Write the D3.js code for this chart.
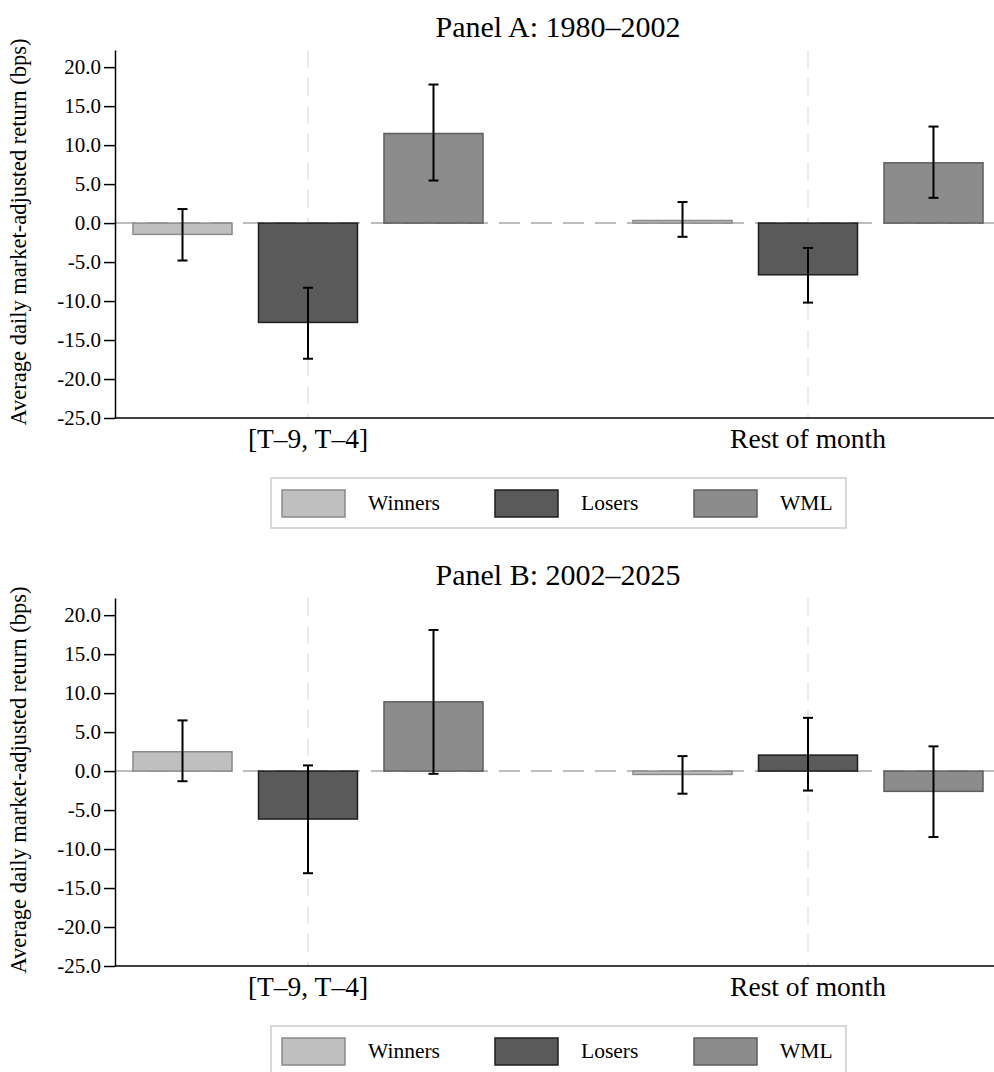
<!DOCTYPE html>
<html>
<head>
<meta charset="utf-8">
<script src="https://cdn.jsdelivr.net/npm/d3@7"></script>
<style>
  body { margin: 0; background: #fff; }
  text { font-family: "Liberation Serif", "Times New Roman", serif; }
</style>
</head>
<body>
<svg id="chart"></svg>
<script>
// Chart data
const categories = ["[T\u20139, T\u20134]", "Rest of month"];
const seriesNames = ["Winners", "Losers", "WML"];
const panelTitles = ["Panel A: 1980\u20132002", "Panel B: 2002\u20132025"];

// mean, lower CI, upper CI per panel, per category, per series
const panelAMeans = [[-1.45, -12.74, 11.49], [0.33, -6.63, 7.73]];
const panelALow   = [[-4.8, -17.4, 5.46], [-1.76, -10.2, 3.24]];
const panelAHigh  = [[1.8, -8.3, 17.77], [2.7, -3.2, 12.38]];

const panelBMeans = [[2.48, -6.15, 8.88], [-0.43, 2.05, -2.6]];
const panelBLow   = [[-1.3, -13.1, -0.35], [-2.9, -2.5, -8.46]];
const panelBHigh  = [[6.5, 0.73, 18.1], [1.92, 6.83, 3.17]];

const yTicks = [-25, -20, -15, -10, -5, 0, 5, 10, 15, 20];

const width = 994;
const height = 1072;

const fills = { Winners: "#bfbfbf", Losers: "#5a5a5a", WML: "#8c8c8c" };
const strokes = { Winners: "#8a8a8a", Losers: "#1e1e1e", WML: "#5e5e5e" };

const svg = d3.select("#chart")
    .attr("width", width)
    .attr("height", height);

const left = 115;
const rightEdge = 1001;

// Category position and series offset within a category
const x = d3.scalePoint()
    .domain(categories)
    .range([left, rightEdge])
    .padding(0.386);

const xInner = d3.scaleBand()
    .domain(seriesNames)
    .range([-175, 175])
    .paddingInner(0.211);

// tick labels use a plain hyphen for negatives
const fmt = d => d3.format(".1f")(d).replace("\u2212", "-");

function drawPanel(offsetY, title, means, lows, highs) {
    const g = svg.append("g").attr("transform", `translate(0,${offsetY})`);

    const y = d3.scaleLinear()
        .domain([-25, 22.2])
        .range([418, 50]);

    // Title
    g.append("text")
        .attr("x", (left + rightEdge) / 2)
        .attr("y", 37)
        .attr("text-anchor", "middle")
        .style("font-size", "30px")
        .text(title);

    // Vertical dashed guides at category centres
    g.selectAll(".vguide")
        .data(categories)
        .enter().append("line")
        .attr("x1", d => x(d))
        .attr("x2", d => x(d))
        .attr("y1", y(22.2))
        .attr("y2", y(-25))
        .attr("stroke", "#ebebeb")
        .attr("stroke-width", 2)
        .attr("stroke-dasharray", "18,10");

    // Zero line
    g.append("line")
        .attr("x1", left)
        .attr("x2", width)
        .attr("y1", y(0))
        .attr("y2", y(0))
        .attr("stroke", "#a8a8a8")
        .attr("stroke-width", 1.5)
        .attr("stroke-dasharray", "21,11");

    // Bars
    const rows = [];
    categories.forEach((c, i) => {
        seriesNames.forEach((s, j) => {
            rows.push({ cat: c, series: s, mean: means[i][j], lo: lows[i][j], hi: highs[i][j] });
        });
    });

    g.selectAll(".bar")
        .data(rows)
        .enter().append("rect")
        .attr("x", d => x(d.cat) + xInner(d.series))
        .attr("width", xInner.bandwidth())
        .attr("y", d => y(Math.max(0, d.mean)))
        .attr("height", d => Math.abs(y(d.mean) - y(0)))
        .attr("fill", d => fills[d.series])
        .attr("stroke", d => strokes[d.series])
        .attr("stroke-width", 1.5);

    // Error bars
    const eb = g.selectAll(".err")
        .data(rows)
        .enter().append("g")
        .attr("transform", d => `translate(${x(d.cat) + xInner(d.series) + xInner.bandwidth() / 2},0)`);
    eb.append("line")
        .attr("y1", d => y(d.lo))
        .attr("y2", d => y(d.hi))
        .attr("stroke", "#000")
        .attr("stroke-width", 2);
    eb.append("line")
        .attr("x1", -5).attr("x2", 5)
        .attr("y1", d => y(d.hi)).attr("y2", d => y(d.hi))
        .attr("stroke", "#000").attr("stroke-width", 2);
    eb.append("line")
        .attr("x1", -5).attr("x2", 5)
        .attr("y1", d => y(d.lo)).attr("y2", d => y(d.lo))
        .attr("stroke", "#000").attr("stroke-width", 2);

    // Y axis
    const yAxis = g.append("g")
        .attr("transform", `translate(${left},0)`)
        .call(d3.axisLeft(y).tickValues(yTicks).tickFormat(fmt).tickSize(11).tickSizeOuter(0))
        .attr("font-size", 21)
        .attr("font-family", "'Liberation Serif', serif");
    yAxis.select(".domain").attr("stroke-width", 1.5);
    yAxis.selectAll(".tick line").attr("stroke-width", 1.5);
    yAxis.selectAll(".tick text")
        .style("font-size", "21px")
        .attr("x", -14);

    // X axis line and labels
    g.append("line")
        .attr("x1", left)
        .attr("x2", width)
        .attr("y1", y(-25))
        .attr("y2", y(-25))
        .attr("stroke", "#000")
        .attr("stroke-width", 1.5);

    g.selectAll(".xlab")
        .data(categories)
        .enter().append("text")
        .attr("x", d => x(d))
        .attr("y", 448)
        .attr("text-anchor", "middle")
        .style("font-size", "27.5px")
        .text(d => d);

    // Y label
    g.append("text")
        .attr("transform", `translate(26,${(50 + 418) / 2 - 2}) rotate(-90)`)
        .attr("text-anchor", "middle")
        .style("font-size", "22.5px")
        .text("Average daily market-adjusted return (bps)");

    // Legend
    const legend = g.append("g");
    legend.append("rect")
        .attr("x", 271).attr("y", 478)
        .attr("width", 575).attr("height", 50)
        .attr("fill", "#fff")
        .attr("stroke", "#cccccc")
        .attr("stroke-width", 1.5);
    const legendX = [282, 495, 694];
    seriesNames.forEach((s, i) => {
        legend.append("rect")
            .attr("x", legendX[i]).attr("y", 490)
            .attr("width", 63).attr("height", 27)
            .attr("fill", fills[s])
            .attr("stroke", strokes[s])
            .attr("stroke-width", 1.5);
        legend.append("text")
            .attr("x", legendX[i] + 86).attr("y", 510)
            .style("font-size", "21.5px")
            .text(s);
    });
}

drawPanel(0, panelTitles[0], panelAMeans, panelALow, panelAHigh);
drawPanel(548, panelTitles[1], panelBMeans, panelBLow, panelBHigh);
</script>
</body>
</html>
